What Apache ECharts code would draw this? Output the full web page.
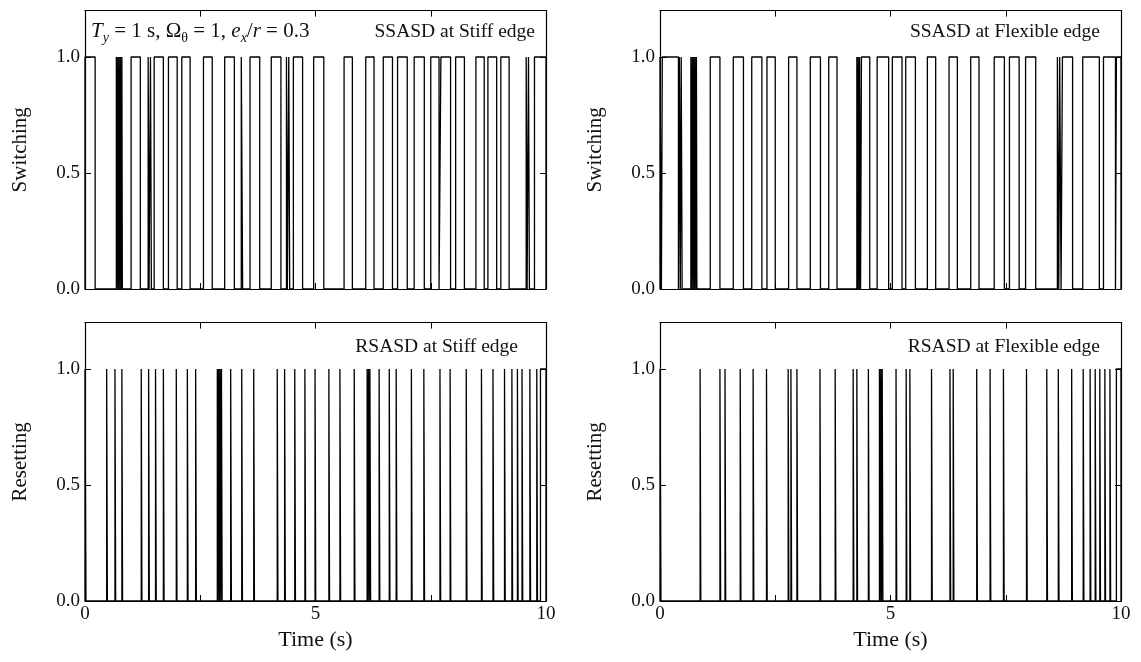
<!DOCTYPE html>
<html>
<head>
<meta charset="utf-8">
<script src="https://cdn.jsdelivr.net/npm/echarts@6/dist/echarts.min.js"></script>
<style>
  html, body { margin: 0; padding: 0; background: #fff; }
  #chart { width: 1141px; height: 662px; }
</style>
</head>
<body>
<div id="chart"></div>
<script>
// Time axis (s) and labelled ticks
const timeRange = [0, 10];
const timeLabels = [0, 5, 10];
const levelLabels = [0, 0.5, 1.0];

// Intervals [on, off] (s) during which the device state is 1
const switchStiff = [
  [0, 0.22], [0.68, 0.70], [0.71, 0.73], [0.74, 0.76], [0.77, 0.79], [0.80, 0.81], [1.00, 1.20],
  [1.37, 1.39], [1.42, 1.44], [1.50, 1.70], [1.81, 2.00], [2.10, 2.28], [2.57, 2.76], [3.03, 3.24],
  [3.39, 3.42], [3.58, 3.79], [4.04, 4.25], [4.37, 4.39], [4.42, 4.44], [4.52, 4.72], [4.96, 5.18],
  [5.62, 5.80], [6.09, 6.27], [6.47, 6.67], [6.78, 6.99], [7.14, 7.36], [7.50, 7.68], [7.72, 7.93],
  [8.04, 8.23], [8.48, 8.66], [8.74, 8.93], [9.02, 9.20], [9.57, 9.59], [9.62, 9.64], [9.75, 10]
];
const switchFlexible = [
  [0, 0.03], [0.05, 0.40], [0.42, 0.44], [0.46, 0.48], [0.67, 0.69], [0.70, 0.72], [0.73, 0.75],
  [0.76, 0.78], [0.79, 0.80], [1.09, 1.30], [1.59, 1.81], [1.99, 2.21], [2.32, 2.50], [2.79, 2.97],
  [3.26, 3.48], [3.66, 3.84], [4.27, 4.29], [4.30, 4.32], [4.33, 4.35], [4.37, 4.55], [4.71, 4.96],
  [5.04, 5.25], [5.33, 5.54], [5.80, 5.98], [6.27, 6.45], [6.74, 6.92], [7.25, 7.47], [7.58, 7.79],
  [7.93, 8.15], [8.62, 8.65], [8.67, 8.70], [8.73, 8.95], [9.17, 9.53], [9.62, 9.88], [9.90, 10]
];
const resetStiff = [
  [0, 0.02], [0.47, 0.485], [0.65, 0.665], [0.80, 0.815], [1.22, 1.235], [1.38, 1.395], [1.53, 1.545],
  [1.70, 1.715], [1.98, 1.995], [2.22, 2.235], [2.40, 2.415], [2.87, 2.885], [2.90, 2.915], [2.93, 2.945],
  [2.96, 2.975], [3.16, 3.175], [3.40, 3.415], [3.66, 3.675], [4.17, 4.185], [4.33, 4.345], [4.55, 4.565],
  [4.77, 4.785], [4.99, 5.005], [5.29, 5.305], [5.53, 5.545], [5.84, 5.855], [6.12, 6.135], [6.15, 6.165],
  [6.18, 6.195], [6.38, 6.395], [6.60, 6.615], [6.75, 6.765], [7.08, 7.095], [7.35, 7.365], [7.70, 7.715],
  [7.92, 7.935], [8.27, 8.285], [8.60, 8.615], [8.85, 8.865], [9.10, 9.115], [9.26, 9.275], [9.38, 9.395],
  [9.48, 9.495], [9.65, 9.665], [9.80, 9.815], [9.88, 10]
];
const resetFlexible = [
  [0, 0.02], [0.87, 0.885], [1.30, 1.315], [1.41, 1.425], [1.74, 1.755], [2.02, 2.035], [2.31, 2.325],
  [2.78, 2.795], [2.84, 2.855], [2.97, 2.985], [3.47, 3.485], [3.80, 3.815], [4.19, 4.205], [4.27, 4.285],
  [4.52, 4.535], [4.76, 4.775], [4.79, 4.805], [4.82, 4.835], [5.12, 5.135], [5.34, 5.355], [5.42, 5.435],
  [5.89, 5.905], [6.29, 6.305], [6.36, 6.375], [6.87, 6.885], [7.16, 7.175], [7.45, 7.465], [7.95, 7.965],
  [8.39, 8.405], [8.64, 8.655], [8.93, 8.945], [9.18, 9.195], [9.33, 9.345], [9.44, 9.455], [9.54, 9.555],
  [9.65, 9.665], [9.76, 9.775], [9.90, 10]
];

const panelTitles = ['SSASD at Stiff edge', 'SSASD at Flexible edge', 'RSASD at Stiff edge', 'RSASD at Flexible edge'];
const panelYNames = ['Switching', 'Switching', 'Resetting', 'Resetting'];

// Turn on/off intervals into a 0/1 step trace
function toSteps(intervals) {
  const pts = [];
  if (intervals[0][0] > timeRange[0]) pts.push([timeRange[0], 0]);
  intervals.forEach(([a, b]) => {
    pts.push([a, 0], [a, 1], [b, 1], [b, 0]);
  });
  const last = intervals[intervals.length - 1][1];
  if (last < timeRange[1]) pts.push([timeRange[1], 0]);
  return pts;
}

const FONT = '"Liberation Serif", "Times New Roman", serif';
const INK = '#111';

const grids = [
  { left: 85, top: 10.6, width: 461, height: 278.4 },
  { left: 660, top: 10.6, width: 461, height: 278.4 },
  { left: 85, top: 322.6, width: 461, height: 278.4 },
  { left: 660, top: 322.6, width: 461, height: 278.4 }
];

const lineAxis = { show: true, onZero: false, lineStyle: { color: '#000', width: 1.2 } };
const tick = { show: true, inside: true, length: 6, lineStyle: { color: '#000', width: 1 } };

const xAxes = [];
const yAxes = [];
grids.forEach((g, i) => {
  const bottomRow = i >= 2;
  ['bottom', 'top'].forEach(pos => {
    const main = pos === 'bottom';
    xAxes.push({
      type: 'value', gridIndex: i, position: pos, min: timeRange[0], max: timeRange[1], interval: 2.5,
      axisLine: lineAxis, axisTick: tick, splitLine: { show: false },
      axisLabel: {
        show: main && bottomRow, margin: 4, color: INK, fontFamily: FONT, fontSize: 19,
        formatter: v => timeLabels.includes(v) ? String(v) : ''
      },
      name: main && bottomRow ? 'Time (s)' : '', nameLocation: 'middle', nameGap: 28,
      nameTextStyle: { color: INK, fontFamily: FONT, fontSize: 22 }
    });
  });
  ['left', 'right'].forEach(pos => {
    const main = pos === 'left';
    yAxes.push({
      type: 'value', gridIndex: i, position: pos, min: 0, max: 1.2, interval: 0.5,
      axisLine: lineAxis, axisTick: tick, splitLine: { show: false },
      axisLabel: {
        show: main, margin: 5, color: INK, fontFamily: FONT, fontSize: 19, showMaxLabel: false,
        formatter: v => levelLabels.some(l => Math.abs(l - v) < 1e-6) ? v.toFixed(1) : ''
      },
      name: main ? panelYNames[i] : '', nameLocation: 'middle', nameRotate: 90, nameGap: 54,
      nameTextStyle: { color: INK, fontFamily: FONT, fontSize: 21 }
    });
  });
});

const traces = [switchStiff, switchFlexible, resetStiff, resetFlexible];
const series = traces.map((iv, i) => ({
  type: 'line', xAxisIndex: 2 * i, yAxisIndex: 2 * i, data: toSteps(iv),
  showSymbol: false, clip: false, silent: true,
  lineStyle: { color: '#000', width: 1.3 }
}));

const titleAnchors = [[535, 32], [1100, 32], [518, 347], [1100, 347]];
const graphic = panelTitles.map((t, i) => ({
  type: 'text', x: titleAnchors[i][0], y: titleAnchors[i][1],
  style: { text: t, fill: INK, font: '19.5px ' + FONT, align: 'right', verticalAlign: 'middle' }
}));
// Parameter note: italic symbols, subscripts dropped below the baseline
graphic.push({
  type: 'text', x: 91, y: 31,
  style: {
    text: '{i|T}{s|y}{n| = 1 s, Ω}{u|θ}{n| = 1, }{i|e}{s|x}{n|/}{i|r}{n| = 0.3}',
    verticalAlign: 'middle', fill: INK,
    rich: {
      n: { fontFamily: FONT, fontSize: 21, lineHeight: 28, verticalAlign: 'middle', fill: INK },
      i: { fontFamily: FONT, fontSize: 21, fontStyle: 'italic', lineHeight: 28, verticalAlign: 'middle', fill: INK },
      s: { fontFamily: FONT, fontSize: 14, fontStyle: 'italic', lineHeight: 10, verticalAlign: 'bottom', fill: INK },
      u: { fontFamily: FONT, fontSize: 14, lineHeight: 10, verticalAlign: 'bottom', fill: INK }
    }
  }
});

const chart = echarts.init(document.getElementById('chart'), null, { renderer: 'canvas' });
chart.setOption({
  animation: false,
  backgroundColor: '#fff',
  grid: grids,
  xAxis: xAxes,
  yAxis: yAxes,
  series,
  graphic
});
</script>
</body>
</html>
